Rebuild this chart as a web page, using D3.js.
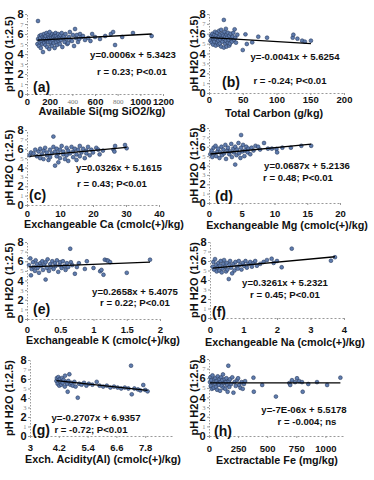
<!DOCTYPE html>
<html>
<head>
<meta charset="utf-8">
<script src="https://cdn.jsdelivr.net/npm/d3@7"></script>
<style>
  body { margin: 0; background: #fff; }
  svg text { font-family: "Liberation Sans", Arial, sans-serif; }
</style>
</head>
<body>
<svg id="chart" width="374" height="480"></svg>
<script>
// ---- data ----
const siData = [[97,7.3],[92,5.0],[98,5.5],[105,4.8],[110,5.8],[112,5.2],[115,5.4],[118,5.6],[122,4.6],[125,5.9],[130,5.3],[135,5.0],[138,5.7],[141,4.2],[145,5.4],[148,5.6],[150,6.0],[152,5.1],[158,5.6],[160,5.5],[162,4.9],[165,5.8],[170,5.3],[172,6.1],[175,5.4],[178,4.7],[180,5.5],[185,5.9],[188,5.2],[192,5.7],[196,4.5],[198,5.6],[200,6.2],[204,5.4],[208,5.0],[210,5.2],[212,5.8],[216,5.6],[220,4.8],[224,6.0],[226,5.5],[228,5.3],[232,5.7],[236,5.1],[240,5.9],[244,4.6],[245,5.8],[248,5.5],[252,6.1],[256,5.2],[258,5.5],[260,5.8],[265,4.9],[270,5.6],[275,6.0],[280,5.3],[285,5.7],[288,5.5],[290,5.0],[295,5.9],[300,5.4],[306,6.1],[312,4.7],[318,5.6],[325,5.8],[332,5.2],[340,6.0],[348,5.5],[355,5.0],[362,5.1],[370,5.7],[378,6.2],[385,5.4],[397,5.3],[405,5.9],[415,4.8],[424,6.5],[432,5.6],[440,5.9],[450,5.2],[460,5.5],[468,6.0],[480,5.7],[494,5.8],[512,5.4],[540,5.6],[560,5.3],[575,6.0],[600,5.7],[644,5.5],[690,5.8],[740,6.0],[760,6.2],[777,4.9],[840,5.7],[935,6.1],[1100,5.8]];
const carbonData = [[2,5.3],[3,5.8],[4,5.1],[5,5.6],[5,6.0],[6,4.9],[7,5.4],[8,5.9],[8,5.2],[9,6.2],[10,5.5],[10,4.8],[11,5.8],[12,5.1],[12,6.1],[13,5.6],[14,4.9],[14,5.3],[15,6.3],[15,5.7],[16,5.0],[17,5.9],[17,5.4],[18,6.4],[18,4.7],[19,5.6],[20,5.2],[20,6.0],[21,5.8],[22,7.4],[22,4.6],[22,5.5],[23,6.2],[24,5.0],[24,5.7],[25,6.5],[25,5.3],[26,4.7],[26,5.9],[27,5.6],[28,6.1],[28,5.1],[29,5.4],[30,5.8],[30,4.8],[31,5.0],[32,6.0],[33,5.5],[34,5.2],[35,5.7],[36,6.1],[37,5.4],[38,6.45],[39,5.6],[40,5.1],[42,5.9],[50,4.35],[54,5.94],[56,4.96],[64,5.13],[73,5.7],[86,5.6],[124,5.6],[125,5.9],[131,5.5],[138,5.3],[142,5.2],[151,5.3]];
const caData = [[0.8,5.3],[1.2,5.6],[2,5.5],[2.5,5.9],[3,5.2],[3.5,5.7],[4,6.0],[4,5.0],[4.5,5.4],[5,5.8],[5,4.9],[5.5,6.1],[6,5.3],[6,5.6],[6.5,4.8],[7,5.9],[7,5.1],[7.5,5.5],[8,7.3],[8,6.2],[8.5,4.2],[8.5,5.7],[9,5.2],[9,6.0],[9.5,4.55],[9.5,5.5],[10,5.9],[10,5.0],[10.5,6.3],[11,5.4],[11,5.7],[11.5,4.9],[12,6.1],[12,5.3],[12.5,4.7],[12.5,5.8],[13,5.5],[13.5,6.2],[14,5.1],[14,5.7],[14.5,6.0],[15,5.4],[15,4.8],[15.5,5.9],[16,6.3],[16,5.2],[16.5,5.6],[17,6.0],[17.5,5.0],[18,5.8],[18,5.5],[18.5,6.2],[19,5.3],[19.5,5.9],[20,5.6],[21,6.1],[21.6,5.9],[22,5.4],[23,5.8],[26.2,5.9],[26.5,5.7],[26.7,6.3],[29.7,6.4],[30.2,6.05]];
const mgData = [[0.2,5.2],[0.4,5.6],[0.5,4.9],[0.7,5.9],[0.8,5.3],[1.0,6.1],[1.1,5.0],[1.3,5.5],[1.4,5.8],[1.6,4.8],[1.7,5.4],[1.9,6.0],[2.0,5.1],[2.2,5.7],[2.3,5.3],[2.5,6.2],[2.6,4.7],[2.8,5.6],[2.9,5.9],[3.1,5.2],[3.2,5.5],[3.4,6.3],[3.5,4.9],[3.7,5.8],[3.8,5.4],[4.0,4.1],[4.0,6.0],[4.2,5.1],[4.3,5.7],[4.5,6.4],[4.6,5.3],[4.8,4.8],[4.9,7.25],[4.9,5.9],[5.1,5.5],[5.2,6.2],[5.4,5.0],[5.5,5.6],[5.7,6.0],[5.9,5.4],[6.0,5.8],[6.3,5.2],[6.5,5.9],[6.8,5.6],[7.1,6.1],[7.5,6.0],[7.8,5.7],[8.4,6.4],[9.0,5.8],[9.6,5.8],[10.3,5.76],[10.4,5.4],[11.2,5.9],[12.5,5.9],[14.1,6.1],[15.6,6.1]];
const kData = [[0.03,5.6],[0.05,6.3],[0.06,4.54],[0.07,5.2],[0.09,5.9],[0.1,5.4],[0.12,5.0],[0.13,6.1],[0.15,5.7],[0.16,5.3],[0.18,4.8],[0.2,5.8],[0.21,5.5],[0.23,6.0],[0.24,5.1],[0.26,5.6],[0.28,4.1],[0.28,5.9],[0.3,5.3],[0.31,6.2],[0.33,5.0],[0.35,5.7],[0.36,5.4],[0.38,6.0],[0.4,5.2],[0.42,5.8],[0.43,5.5],[0.45,6.1],[0.47,4.9],[0.49,5.6],[0.5,5.9],[0.52,5.3],[0.54,6.0],[0.56,5.5],[0.58,5.1],[0.6,5.8],[0.62,5.4],[0.65,7.3],[0.66,5.9],[0.68,5.6],[0.72,4.7],[0.75,5.4],[0.78,5.8],[0.87,5.2],[0.9,6.0],[1.0,5.3],[1.1,4.96],[1.12,5.1],[1.15,4.6],[1.17,6.16],[1.2,6.1],[1.22,6.06],[1.25,5.9],[1.5,4.8],[1.85,6.16]];
const naData = [[0.08,5.4],[0.1,5.9],[0.12,5.1],[0.15,6.2],[0.18,5.6],[0.2,4.9],[0.22,5.3],[0.25,5.8],[0.28,5.0],[0.3,5.5],[0.32,6.0],[0.35,4.8],[0.38,5.2],[0.4,5.7],[0.42,6.1],[0.45,5.4],[0.48,4.9],[0.5,5.8],[0.52,5.1],[0.56,4.1],[0.58,5.6],[0.6,6.0],[0.63,5.3],[0.66,4.7],[0.7,5.7],[0.73,5.0],[0.76,5.9],[0.8,5.4],[0.83,5.2],[0.86,6.0],[0.9,5.6],[0.94,5.1],[0.98,5.8],[1.02,5.5],[1.06,6.0],[1.1,5.3],[1.15,5.7],[1.2,5.9],[1.25,5.4],[1.3,5.8],[1.35,6.0],[1.4,5.5],[1.5,5.7],[1.6,5.9],[1.7,6.1],[1.84,6.24],[1.9,5.8],[2.0,6.0],[2.14,5.34],[2.44,7.3],[3.61,6.03],[3.73,6.4]];
const acidData = [[4.1,5.8],[4.12,6.1],[4.15,5.5],[4.18,6.2],[4.2,5.9],[4.22,5.3],[4.25,6.0],[4.28,5.7],[4.3,5.4],[4.33,6.1],[4.36,5.6],[4.4,5.9],[4.45,5.2],[4.46,6.35],[4.5,5.7],[4.55,5.5],[4.57,4.66],[4.6,5.8],[4.64,6.5],[4.68,5.4],[4.72,5.6],[4.78,5.3],[4.85,5.7],[4.9,5.2],[4.99,4.03],[5.05,5.5],[5.15,5.4],[5.25,5.6],[5.35,5.3],[5.45,5.5],[5.6,5.4],[5.78,5.7],[5.9,5.3],[6.05,5.2],[6.2,5.3],[6.35,5.1],[6.5,5.2],[6.65,5.1],[6.8,5.0],[6.95,5.1],[7.1,5.0],[7.21,7.4],[7.24,4.39],[7.35,5.0],[7.5,4.9],[7.6,4.8],[7.72,5.37],[7.8,4.85],[7.9,4.7]];
const feData = [[8,5.6],[12,6.1],[15,5.2],[20,5.8],[25,4.9],[30,6.3],[35,5.5],[40,5.0],[45,5.9],[50,5.4],[55,6.0],[60,5.1],[65,5.7],[70,4.8],[75,6.2],[80,5.5],[85,5.3],[90,5.9],[95,4.7],[100,5.6],[105,6.1],[110,5.2],[115,5.8],[120,6.4],[125,5.0],[130,5.5],[135,5.9],[140,4.9],[145,5.6],[150,6.0],[155,5.3],[160,4.6],[166,7.3],[170,5.7],[175,5.1],[180,5.9],[190,5.4],[200,6.1],[210,4.5],[220,5.6],[230,5.2],[240,5.8],[250,6.0],[260,5.3],[270,5.0],[280,5.6],[290,4.9],[300,5.4],[310,5.7],[382,6.06],[385,4.6],[457,5.3],[575,4.1],[690,5.5],[698,5.3],[713,5.8],[740,5.6],[756,6.0],[775,5.7],[799,5.6],[805,4.6],[853,5.4],[928,5.6],[1015,5.3],[1129,6.06]];

const slopes = [0.0006, -0.0041, 0.0326, 0.0687, 0.2658, 0.3261, -0.2707, -0.000007];
const intercepts = [5.3423, 5.6254, 5.1615, 5.2136, 5.4075, 5.2321, 6.9357, 5.5178];
const eqLabels = ["y=0.0006x + 5.3423", "y=-0.0041x + 5.6254", "y=0.0326x + 5.1615", "y=0.0687x + 5.2136",
                  "y=0.2658x + 5.4075", "y=0.3261x + 5.2321", "y=-0.2707x + 6.9357", "y=-7E-06x + 5.5178"];
const rLabels = ["r = 0.23; P<0.01", "r = -0.24; P<0.01", "r = 0.43; P<0.01", "r = 0.48; P<0.01",
                 "r = 0.22; P<0.01", "r = 0.45; P<0.01", "r = -0.72; P<0.01", "r = -0.004; ns"];
const panelTags = ["(a)", "(b)", "(c)", "(d)", "(e)", "(f)", "(g)", "(h)"];
const xTitles = ["Available Si(mg SiO2/kg)", "Total Carbon (g/kg)", "Exchangeable Ca (cmolc(+)/kg)",
                 "Exchangeable Mg (cmolc(+)/kg)", "Exchangeable K (cmolc(+)/kg)", "Exchangeable Na (cmolc(+)/kg)",
                 "Exch. Acidity(Al) (cmolc(+)/kg)", "Exctractable Fe (mg/kg)"];
const xTickValues = [[0,200,400,600,800,1000,1200], [0,50,100,150,200], [0,10,20,30,40], [0,5,10,15,20],
                     [0,0.5,1,1.5,2], [0,1,2,3,4], [3,4.2,5.4,6.6,7.8], [0,250,500,750,1000]];
const xDomains = [[0,1200], [0,200], [0,40], [0,20], [0,2], [0,4], [3,9], [0,1160]];
const yTickValues = [0,1,2,3,4,5,6,7,8];
const yTitle = "pH H2O (1:2.5)";
const seriesData = [siData, carbonData, caData, mgData, kData, naData, acidData, feData];

// ---- layout (pixels) ----
const layout = [
  {left:27,  right:163, top:14,  bottom:94,  tickC:102, titleC:110, titleX:102, yt:9,   eq:[133,55],  r:[132,72],  tag:[33,87],  small:[400,800]},
  {left:209, right:344, top:14,  bottom:93,  tickC:100, titleC:112, titleX:274, yt:194, eq:[295,57],  r:[290,81],  tag:[222,82]},
  {left:27,  right:159, top:130, bottom:205, tickC:214, titleC:223, titleX:104, yt:9,   eq:[119,168], r:[112,184], tag:[29,195]},
  {left:209, right:340, top:128, bottom:203, tickC:214, titleC:224, titleX:287, yt:194, eq:[307,166], r:[298,178], tag:[215,196]},
  {left:27,  right:160, top:242, bottom:319, tickC:330, titleC:339, titleX:103, yt:9,   eq:[135,292], r:[135,303], tag:[33,309]},
  {left:210, right:344, top:242, bottom:318, tickC:330, titleC:341, titleX:285, yt:194, eq:[285,283], r:[285,295], tag:[212,312]},
  {left:30,  right:174, top:360, bottom:436, tickC:448, titleC:458, titleX:103, yt:9,   eq:[96,418],  r:[91,430],  tag:[32,430]},
  {left:209, right:344, top:359, bottom:436, tickC:449, titleC:459, titleX:277, yt:194, eq:[304,410], r:[307,422], tag:[214,431]}
];

const svg = d3.select("#chart");

seriesData.forEach((data, i) => {
  const L = layout[i];
  const x = d3.scaleLinear().domain(xDomains[i]).range([L.left, L.right]);
  const y = d3.scaleLinear().domain([0, 8]).range([L.bottom, L.top]);
  const g = svg.append("g");

  // y axis, dotted with tiny odd labels
  const ya = g.append("g")
    .attr("transform", `translate(${L.left},0)`)
    .call(d3.axisLeft(y).tickValues(yTickValues).tickSize(2).tickSizeOuter(0).tickPadding(1.5));
  ya.select(".domain").attr("stroke", "#999").attr("stroke-dasharray", "1.5,1.5");
  ya.selectAll(".tick line").attr("stroke", "#999");
  ya.selectAll(".tick text")
    .attr("font-size", d => d % 2 ? 6.5 : 11)
    .attr("font-weight", d => d % 2 ? "normal" : "bold")
    .attr("fill", d => d % 2 ? "#888" : "#111")
    .style("font-family", d => d % 2 ? "'Liberation Serif', serif" : null);

  // x axis, dashed
  const small = L.small || [];
  const xa = g.append("g")
    .attr("transform", `translate(0,${L.bottom})`)
    .call(d3.axisBottom(x).tickValues(xTickValues[i]).tickFormat(d => String(d)).tickSize(2).tickSizeOuter(0));
  xa.select(".domain").attr("stroke", "#999").attr("stroke-dasharray", "2,2");
  xa.selectAll(".tick line").attr("stroke", "#999");
  xa.selectAll(".tick text")
    .attr("dy", null)
    .attr("y", d => L.tickC - L.bottom + (small.includes(d) ? 2 : 2.8))
    .attr("font-size", d => small.includes(d) ? 7 : 9.5)
    .attr("font-weight", d => small.includes(d) ? "normal" : "bold")
    .attr("fill", d => small.includes(d) ? "#777" : "#111")
    .style("font-family", d => small.includes(d) ? "'Liberation Serif', serif" : null);

  // axis titles
  g.append("text")
    .attr("x", L.titleX).attr("y", L.titleC + 5.3)
    .attr("text-anchor", "middle")
    .attr("font-size", 10.8).attr("font-weight", "bold").attr("fill", "#111")
    .text(xTitles[i]);

  g.append("text")
    .attr("transform", `translate(${L.yt},${(L.top + L.bottom) / 2}) rotate(-90)`)
    .attr("dy", "0.35em")
    .attr("text-anchor", "middle")
    .attr("font-size", 11).attr("font-weight", "bold").attr("fill", "#111")
    .text(yTitle);

  // points
  g.append("g").selectAll("circle")
    .data(data)
    .enter().append("circle")
    .attr("cx", d => x(d[0]))
    .attr("cy", d => y(d[1]))
    .attr("r", 1.9)
    .attr("fill", "#5f7cae")
    .attr("stroke", "#2a3d60")
    .attr("stroke-width", 0.6);

  // trend line over the data range
  const xr = d3.extent(data, d => d[0]);
  g.append("line")
    .attr("x1", x(xr[0])).attr("y1", y(slopes[i] * xr[0] + intercepts[i]))
    .attr("x2", x(xr[1])).attr("y2", y(slopes[i] * xr[1] + intercepts[i]))
    .attr("stroke", "#000").attr("stroke-width", 1.3);

  // equation and r
  g.append("text")
    .attr("x", L.eq[0]).attr("y", L.eq[1] + 3.4)
    .attr("text-anchor", "middle")
    .attr("font-size", 9.6).attr("font-weight", "bold").attr("fill", "#111")
    .text(eqLabels[i]);
  g.append("text")
    .attr("x", L.r[0]).attr("y", L.r[1] + 3.4)
    .attr("text-anchor", "middle")
    .attr("font-size", 9.6).attr("font-weight", "bold").attr("fill", "#111")
    .text(rLabels[i]);

  // panel tag
  g.append("text")
    .attr("x", L.tag[0]).attr("y", L.tag[1] + 5)
    .attr("font-size", 14).attr("font-weight", "bold").attr("fill", "#111")
    .text(panelTags[i]);
});
</script>
</body>
</html>
